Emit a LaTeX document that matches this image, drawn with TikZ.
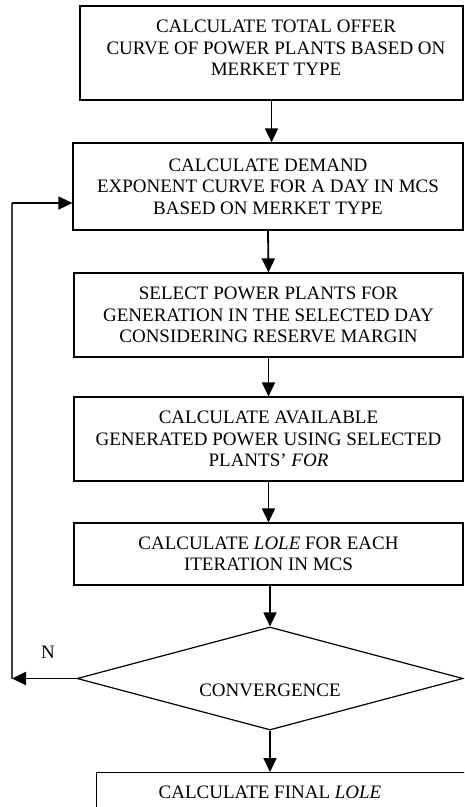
\documentclass[tikz,border=0pt]{standalone}
\usepackage{fontspec}
\setmainfont{Liberation Serif}
\usetikzlibrary{arrows.meta,shapes.geometric}
\begin{document}
\begin{tikzpicture}[x=1pt,y=-1pt,
  box/.style={draw, line width=1.2pt, inner sep=0pt, align=center, font=\fontsize{19}{21.5}\selectfont},
  txt/.style={inner sep=0pt, align=center, font=\fontsize{19}{21.5}\selectfont},
  arr/.style={line width=1.8pt, -{Triangle[length=14pt,width=13pt]}},
  fb/.style={line width=1.5pt, draw=black!75}
]
\useasboundingbox (0,0) rectangle (464,807);
\clip (0,0) rectangle (464,807);
\node[box, minimum width=383, minimum height=94] (b1) at (271.5,53) {};
\node[txt] (t1) at (276,48) {CALCULATE TOTAL OFFER\\CURVE OF POWER PLANTS BASED ON\\MERKET TYPE};
\node[box, minimum width=390, minimum height=87] (b2) at (268,186.5) {CALCULATE DEMAND\\EXPONENT CURVE FOR A DAY IN MCS\\BASED ON MERKET TYPE};
\node[box, minimum width=389, minimum height=84] (b3) at (268.5,315) {SELECT POWER PLANTS FOR\\GENERATION IN THE SELECTED DAY\\CONSIDERING RESERVE MARGIN};
\node[box, minimum width=389, minimum height=84] (b4) at (268.5,439) {CALCULATE AVAILABLE\\GENERATED POWER USING SELECTED\\PLANTS' \textit{FOR}};
\node[box, minimum width=389, minimum height=62] (b5) at (268.5,554) {CALCULATE \textit{LOLE} FOR EACH\\ITERATION IN MCS};
\node[draw, line width=1.2pt, shape=diamond, inner sep=0pt, minimum width=386, minimum height=103] (dia) at (270,678.5) {};
\node[txt] (tdia) at (270,690) {CONVERGENCE};
\node[draw, line width=1.2pt, anchor=north west, minimum width=390, minimum height=80] (b6) at (96,772) {};
\node[txt] (t6) at (270,792) {CALCULATE FINAL \textit{LOLE}};
\node[txt] (n) at (48,652) {N};
\coordinate (fl) at (12,678.5);
\coordinate (fu) at (12,203);
\draw[arr] (b1.south) -- (b1.south |- b2.north);
\draw[arr] (b2.south) -- (b3.north);
\draw[arr] (b3.south) -- (b4.north);
\draw[arr] (b4.south) -- (b5.north);
\draw[arr] (b5.south -| dia.north) -- (dia.north);
\draw[arr] (dia.south) -- (dia.south |- b6.north);
\draw[arr] (dia.west) -- (fl);
\draw[fb] (fl) -- (fu);
\draw[arr, line width=1.5pt] (fu) -- (fu -| b2.west);
\end{tikzpicture}
\end{document}
